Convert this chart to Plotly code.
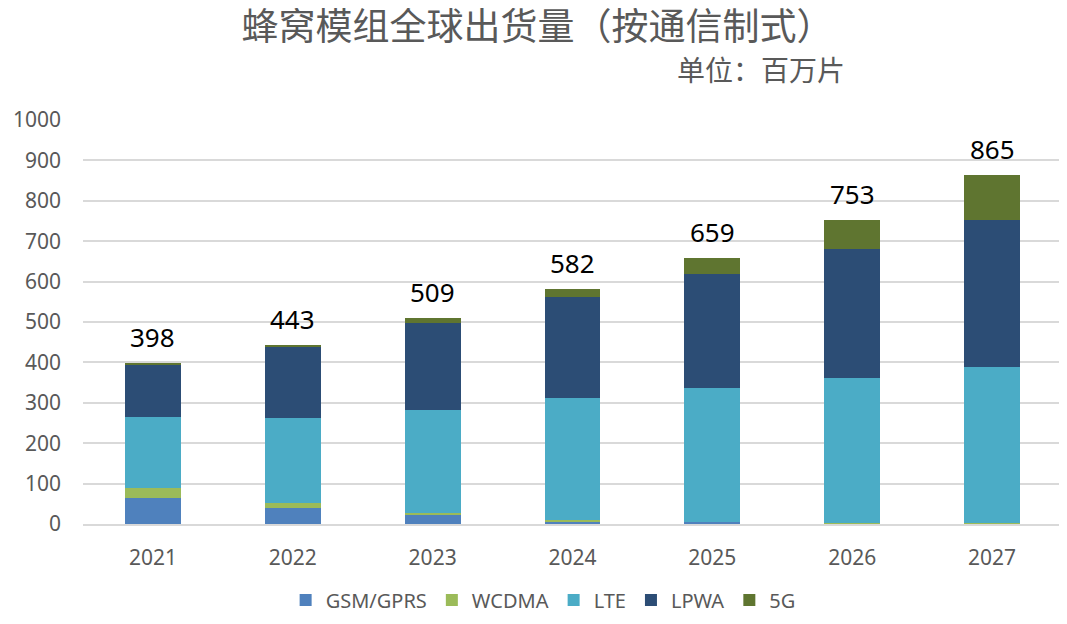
import plotly.graph_objects as go

years = ["2021", "2022", "2023", "2024", "2025", "2026", "2027"]
gsm = [64, 39, 23, 6, 5, 2, 1]
wcdma = [24, 13, 5, 4, 1, 0.5, 0.5]
lte = [178, 211, 255, 301, 330, 358, 386]
lpwa = [130, 175, 214, 251, 283, 320, 366]
g5 = [2, 5, 12, 20, 40, 72.5, 111.5]
totals = [398, 443, 509, 582, 659, 753, 865]

series = [
    ("GSM/GPRS", gsm, "#4F81BD"),
    ("WCDMA", wcdma, "#9BBB59"),
    ("LTE", lte, "#4BACC6"),
    ("LPWA", lpwa, "#2C4D75"),
    ("5G", g5, "#5F7530"),
]

fig = go.Figure()
for name, vals, col in series:
    fig.add_trace(go.Bar(x=years, y=vals, name=name,
                         marker=dict(color=col, line=dict(width=0))))

for i, t in enumerate(totals):
    fig.add_annotation(x=i, y=t, text=str(t), showarrow=False, yanchor="bottom", yshift=6,
                       font=dict(size=26, color="#000000", family="Noto Sans"))

W, H = 1059, 616
L, R, T, B = 72, 5, 112, 98
plot_w = W - L - R
plot_h = H - T - B

fig.add_annotation(xref="paper", yref="paper",
                   x=(752 - L) / plot_w, y=(H - B - 61) / plot_h,
                   text="单位：百万片", showarrow=False, xanchor="center", yanchor="middle",
                   font=dict(size=28, color="#595959", family="Noto Sans CJK SC"))

fig.update_layout(
    width=W, height=H,
    barmode="stack", bargap=0.6,
    plot_bgcolor="white", paper_bgcolor="white",
    margin=dict(l=L, r=R, t=T, b=B),
    font=dict(family="Noto Sans, Noto Sans CJK SC", color="#595959", size=21),
    title=dict(text="蜂窝模组全球出货量（按通信制式）", x=0.5, xanchor="center",
               y=1 - 19 / H, yanchor="middle",
               font=dict(size=37, color="#595959", family="Noto Sans CJK SC")),
    yaxis=dict(range=[0, 1000], dtick=100, showgrid=True, gridcolor="#D9D9D9", gridwidth=1.5,
               zeroline=False, ticks="", tickfont=dict(size=21, color="#595959"),
               ticklabelstandoff=21),
    xaxis=dict(type="category", range=[-0.5, 6.5], showline=True, linecolor="#D9D9D9",
               linewidth=1.5, ticks="",
               tickfont=dict(size=21, color="#595959"), ticklabelstandoff=14),
    legend=dict(orientation="h", x=0.47, xanchor="center",
                y=(H - B - 614) / plot_h, yanchor="bottom",
                font=dict(size=20, color="#595959"), traceorder="normal", itemwidth=30),
)

fig.write_html("out.html")
